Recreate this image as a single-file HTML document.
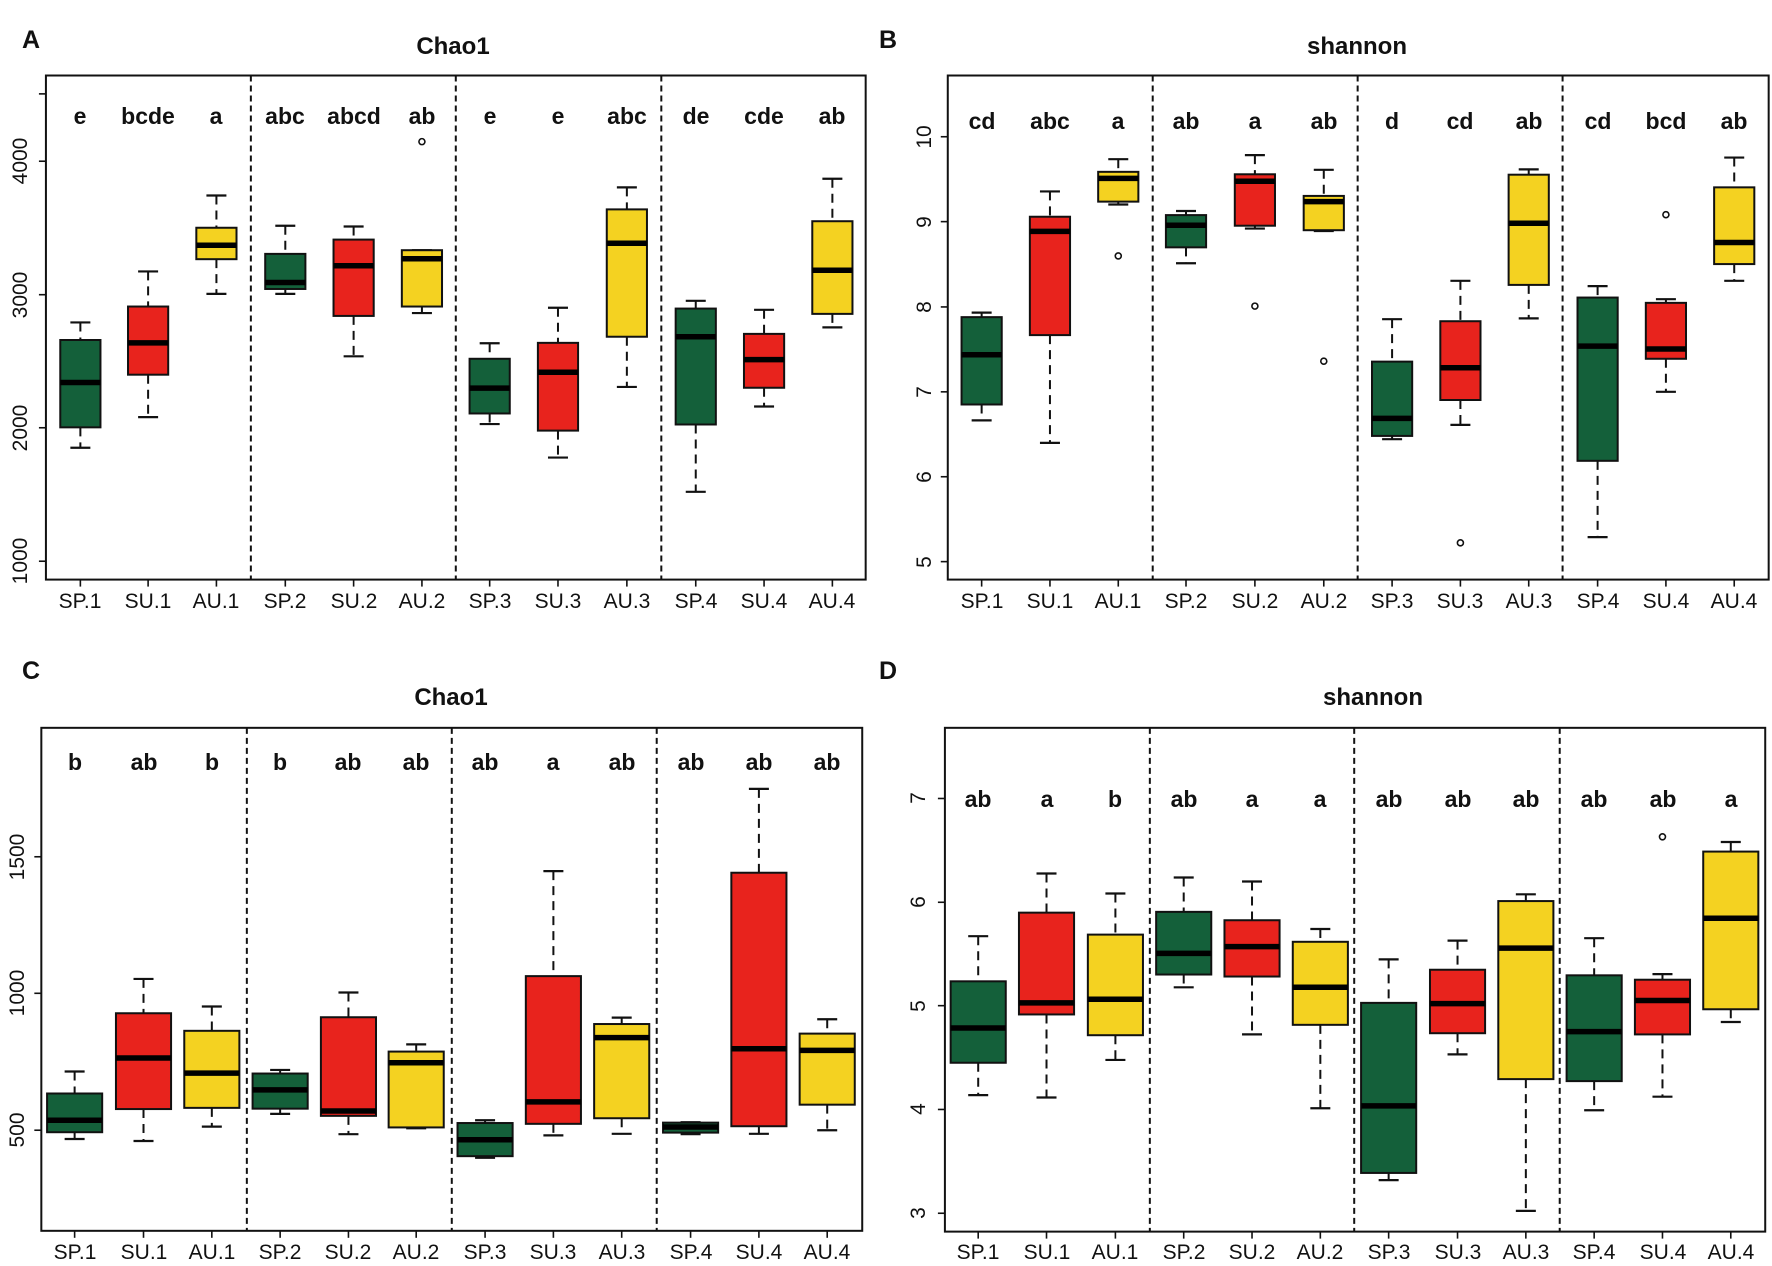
<!DOCTYPE html>
<html><head><meta charset="utf-8"><style>
html,body{margin:0;padding:0;background:#fff;}
svg{display:block;font-family:"Liberation Sans",Arial,sans-serif;}
.t{font-size:21px;text-anchor:middle;fill:#111;}
.l{font-size:23px;font-weight:bold;text-anchor:middle;fill:#111;}
.ti{font-size:24px;font-weight:bold;text-anchor:middle;fill:#111;}
.pl{font-size:25px;font-weight:bold;fill:#111;}
</style></head><body>
<svg id="s" width="1772" height="1266" viewBox="0 0 1772 1266" xmlns="http://www.w3.org/2000/svg">
<rect width="1772" height="1266" fill="#fff"/>
<g id="shapes"></g>
<!-- Panel letters and titles -->
<text class="pl" x="22" y="48">A</text>
<text class="pl" x="879" y="48">B</text>
<text class="pl" x="22" y="679">C</text>
<text class="pl" x="879" y="679">D</text>
<text class="ti" x="453" y="54">Chao1</text>
<text class="ti" x="1357" y="54">shannon</text>
<text class="ti" x="451" y="705">Chao1</text>
<text class="ti" x="1373" y="705">shannon</text>
<!-- Panel A -->
<g class="l">
<text x="80" y="124">e</text><text x="148" y="124">bcde</text><text x="216" y="124">a</text>
<text x="285" y="124">abc</text><text x="354" y="124">abcd</text><text x="422" y="124">ab</text>
<text x="490" y="124">e</text><text x="558" y="124">e</text><text x="627" y="124">abc</text>
<text x="696" y="124">de</text><text x="764" y="124">cde</text><text x="832" y="124">ab</text>
</g>
<g class="t">
<text x="80" y="608">SP.1</text><text x="148" y="608">SU.1</text><text x="216" y="608">AU.1</text>
<text x="285" y="608">SP.2</text><text x="354" y="608">SU.2</text><text x="422" y="608">AU.2</text>
<text x="490" y="608">SP.3</text><text x="558" y="608">SU.3</text><text x="627" y="608">AU.3</text>
<text x="696" y="608">SP.4</text><text x="764" y="608">SU.4</text><text x="832" y="608">AU.4</text>
</g>
<g class="t">
<text transform="translate(27,561) rotate(-90)">1000</text>
<text transform="translate(27,428) rotate(-90)">2000</text>
<text transform="translate(27,295) rotate(-90)">3000</text>
<text transform="translate(27,161) rotate(-90)">4000</text>
</g>
<!-- Panel B -->
<g class="l">
<text x="982" y="129">cd</text><text x="1050" y="129">abc</text><text x="1118" y="129">a</text>
<text x="1186" y="129">ab</text><text x="1255" y="129">a</text><text x="1324" y="129">ab</text>
<text x="1392" y="129">d</text><text x="1460" y="129">cd</text><text x="1529" y="129">ab</text>
<text x="1598" y="129">cd</text><text x="1666" y="129">bcd</text><text x="1734" y="129">ab</text>
</g>
<g class="t">
<text x="982" y="608">SP.1</text><text x="1050" y="608">SU.1</text><text x="1118" y="608">AU.1</text>
<text x="1186" y="608">SP.2</text><text x="1255" y="608">SU.2</text><text x="1324" y="608">AU.2</text>
<text x="1392" y="608">SP.3</text><text x="1460" y="608">SU.3</text><text x="1529" y="608">AU.3</text>
<text x="1598" y="608">SP.4</text><text x="1666" y="608">SU.4</text><text x="1734" y="608">AU.4</text>
</g>
<g class="t">
<text transform="translate(931,562) rotate(-90)">5</text>
<text transform="translate(931,477) rotate(-90)">6</text>
<text transform="translate(931,392) rotate(-90)">7</text>
<text transform="translate(931,307) rotate(-90)">8</text>
<text transform="translate(931,222) rotate(-90)">9</text>
<text transform="translate(931,137) rotate(-90)">10</text>
</g>
<!-- Panel C -->
<g class="l">
<text x="75" y="770">b</text><text x="144" y="770">ab</text><text x="212" y="770">b</text>
<text x="280" y="770">b</text><text x="348" y="770">ab</text><text x="416" y="770">ab</text>
<text x="485" y="770">ab</text><text x="553" y="770">a</text><text x="622" y="770">ab</text>
<text x="691" y="770">ab</text><text x="759" y="770">ab</text><text x="827" y="770">ab</text>
</g>
<g class="t">
<text x="75" y="1259">SP.1</text><text x="144" y="1259">SU.1</text><text x="212" y="1259">AU.1</text>
<text x="280" y="1259">SP.2</text><text x="348" y="1259">SU.2</text><text x="416" y="1259">AU.2</text>
<text x="485" y="1259">SP.3</text><text x="553" y="1259">SU.3</text><text x="622" y="1259">AU.3</text>
<text x="691" y="1259">SP.4</text><text x="759" y="1259">SU.4</text><text x="827" y="1259">AU.4</text>
</g>
<g class="t">
<text transform="translate(24,1130) rotate(-90)">500</text>
<text transform="translate(24,993) rotate(-90)">1000</text>
<text transform="translate(24,857) rotate(-90)">1500</text>
</g>
<!-- Panel D -->
<g class="l">
<text x="978" y="807">ab</text><text x="1047" y="807">a</text><text x="1115" y="807">b</text>
<text x="1184" y="807">ab</text><text x="1252" y="807">a</text><text x="1320" y="807">a</text>
<text x="1389" y="807">ab</text><text x="1458" y="807">ab</text><text x="1526" y="807">ab</text>
<text x="1594" y="807">ab</text><text x="1663" y="807">ab</text><text x="1731" y="807">a</text>
</g>
<g class="t">
<text x="978" y="1259">SP.1</text><text x="1047" y="1259">SU.1</text><text x="1115" y="1259">AU.1</text>
<text x="1184" y="1259">SP.2</text><text x="1252" y="1259">SU.2</text><text x="1320" y="1259">AU.2</text>
<text x="1389" y="1259">SP.3</text><text x="1458" y="1259">SU.3</text><text x="1526" y="1259">AU.3</text>
<text x="1594" y="1259">SP.4</text><text x="1663" y="1259">SU.4</text><text x="1731" y="1259">AU.4</text>
</g>
<g class="t">
<text transform="translate(925,1213) rotate(-90)">3</text>
<text transform="translate(925,1109) rotate(-90)">4</text>
<text transform="translate(925,1006) rotate(-90)">5</text>
<text transform="translate(925,902) rotate(-90)">6</text>
<text transform="translate(925,798) rotate(-90)">7</text>
</g>
</svg>
<script>
(function(){
var NS="http://www.w3.org/2000/svg",g=document.getElementById("shapes");
function el(n,a){var e=document.createElementNS(NS,n);for(var k in a)e.setAttribute(k,a[k]);g.appendChild(e);return e;}
var COL=["#14603a","#e8231d","#f4d221"];
function panel(p){
 var X=function(c){return p.ox+c/1.742},Y=function(v){return p.oy+v/p.ys};
 var L=X(p.ax[0]),R=X(p.ax[1]),T=Y(p.ax[2]),B=Y(p.ax[3]);
 p.d.forEach(function(d){el("line",{x1:X(d),x2:X(d),y1:T,y2:B,stroke:"#111","stroke-width":2,"stroke-dasharray":"6,4"});});
 p.ticks.forEach(function(t){el("line",{x1:L-7,x2:L,y1:Y(t),y2:Y(t),stroke:"#111","stroke-width":1.6});});
 p.b.forEach(function(b,i){
  var c=X(b[0]),hw=p.hw/1.742,cw=10,hi=Y(b[1]),q3=Y(b[2]),md=Y(b[3]),q1=Y(b[4]),lo=Y(b[5]);
  el("line",{x1:c,x2:c,y1:B,y2:B+7,stroke:"#111","stroke-width":1.6});
  el("line",{x1:c,x2:c,y1:hi,y2:q3,stroke:"#111","stroke-width":2,"stroke-dasharray":"9,6"});
  el("line",{x1:c,x2:c,y1:q1,y2:lo,stroke:"#111","stroke-width":2,"stroke-dasharray":"9,6"});
  el("line",{x1:c-cw,x2:c+cw,y1:hi,y2:hi,stroke:"#111","stroke-width":2.2});
  el("line",{x1:c-cw,x2:c+cw,y1:lo,y2:lo,stroke:"#111","stroke-width":2.2});
  el("rect",{x:c-hw,y:q3,width:2*hw,height:Math.max(q1-q3,1),fill:COL[i%3],stroke:"#111","stroke-width":2});
  el("line",{x1:c-hw,x2:c+hw,y1:md,y2:md,stroke:"#000","stroke-width":5.5});
  if(b[6])el("circle",{cx:c,cy:Y(b[6]),r:3,fill:"#fff",stroke:"#111","stroke-width":1.6});
 });
 el("rect",{x:L,y:T,width:R-L,height:B-T,fill:"none",stroke:"#111","stroke-width":2});
}
panel({ox:0,oy:0,ys:2.45,ax:[80,1508,185,1420],hw:35,d:[437,794,1152],ticks:[230,395,722,1048,1375],b:[
[140,790,833,937,1047,1097],[258,665,751,840,918,1022],[377,479,558,601,635,720],
[497,553,622,692,708,720],[616,555,587,651,774,873],[735,613,613,634,751,767,347],
[853,841,879,951,1013,1039],[972,754,840,912,1055,1121],[1092,459,513,596,825,948],
[1212,737,756,825,1040,1205],[1331,759,818,881,950,996],[1450,438,542,662,769,802]]});
panel({ox:872,oy:0,ys:2.45,ax:[132,1562,185,1420],hw:35,d:[489,846,1203],ticks:[335,543,752,960,1168,1376],b:[
[191,766,777,869,991,1030],[310,469,531,567,821,1085],[429,390,421,437,494,501,627],
[547,517,527,552,606,645],[667,380,427,444,553,560,750],[787,416,480,494,564,566,885],
[906,782,886,1025,1068,1076],[1025,688,787,901,980,1041,1330],[1144,415,428,547,698,780],
[1264,701,729,848,1129,1316],[1383,733,742,855,879,960,526],[1502,386,459,594,647,688]]});
panel({ox:0,oy:640,ys:2.505,ax:[72,1502,220,1480],hw:48,d:[430,787,1144],ticks:[543,885,1228],b:[
[130,1081,1136,1203,1233,1250],[250,849,935,1047,1175,1255],[369,918,979,1085,1172,1219],
[488,1077,1086,1127,1174,1187],[607,883,945,1180,1192,1238],[725,1013,1031,1059,1221,1223],
[845,1203,1210,1252,1293,1297],[964,579,842,1157,1212,1241],[1083,946,962,996,1198,1237],
[1203,1208,1209,1220,1234,1238],[1322,373,583,1024,1218,1237],[1441,950,986,1028,1164,1228]]});
panel({ox:872,oy:640,ys:2.505,ax:[127,1556,220,1482],hw:48,d:[484,840,1198],ticks:[397,657,916,1176,1436],b:[
[185,742,855,972,1059,1140],[304,585,683,909,938,1146],[424,635,738,900,990,1052],
[543,595,681,785,838,870],[662,605,702,768,843,988],[781,724,756,870,964,1173],
[900,800,909,1167,1335,1353],[1020,753,826,911,985,1038],[1139,637,654,772,1100,1430],
[1258,747,840,981,1105,1178],[1377,837,851,903,988,1144,493],[1496,506,530,697,925,957]]});
})();
</script>
</body></html>
